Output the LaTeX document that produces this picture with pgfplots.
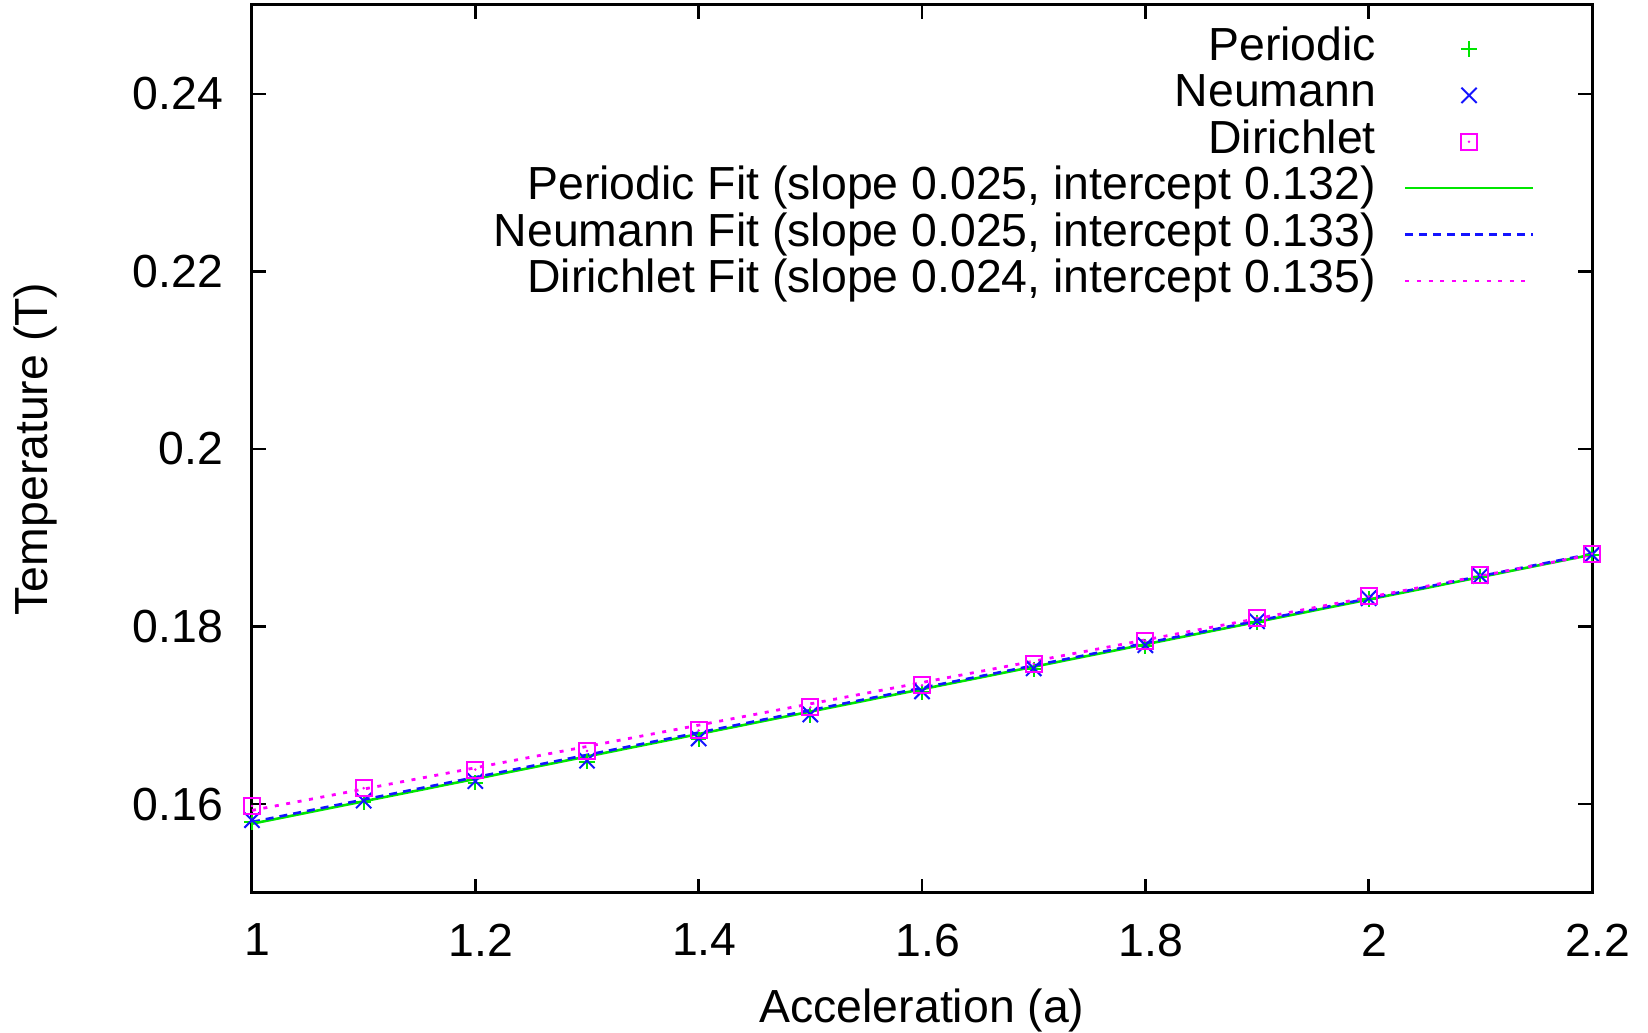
\documentclass[border=0pt]{standalone}
\usepackage{fontspec}
\setmainfont{Liberation Sans}
\usepackage{pgfplots}
\pgfplotsset{compat=1.18}
\usepackage{pgfplotstable}
\definecolor{gpgreen}{RGB}{0,230,0}
\definecolor{gpblue}{RGB}{20,20,255}
\definecolor{gpmag}{RGB}{255,0,255}
\newcommand{\myfont}{\fontsize{11.6}{13.9}\selectfont}
\pgfdeclareplotmark{sqdot}{%
  \pgfpathrectangle{\pgfpoint{-\pgfplotmarksize}{-\pgfplotmarksize}}{\pgfpoint{2\pgfplotmarksize}{2\pgfplotmarksize}}%
  \pgfusepathqstroke
  \pgfpathcircle{\pgfpointorigin}{0.35pt}\pgfusepathqfill}

\pgfplotstableread{
a     per     neu     dir
1.0   0.1580  0.1582  0.1598
1.1   0.1602  0.1604  0.1618
1.2   0.1624  0.1626  0.1639
1.3   0.1648  0.1649  0.1660
1.4   0.1673  0.1674  0.1683
1.5   0.1700  0.1701  0.1709
1.6   0.1726  0.1727  0.1734
1.7   0.1752  0.1753  0.1758
1.8   0.1778  0.1779  0.1784
1.9   0.1805  0.1806  0.1810
2.0   0.1831  0.1832  0.1834
2.1   0.1856  0.1857  0.1858
2.2   0.1881  0.1881  0.1882
}\datatable

\pgfplotstableread{
a     per     neu     dir
1.0   0.1578  0.1580  0.1593
2.2   0.1881  0.1882  0.1881
}\fittable

\begin{document}
\begin{tikzpicture}
\begin{axis}[
  scale only axis,
  width=335pt, height=222pt,
  xmin=1, xmax=2.2, ymin=0.15, ymax=0.25,
  xtick={1,1.2,1.4,1.6,1.8,2,2.2},
  ytick={0.16,0.18,0.2,0.22,0.24},
  xtick pos=both, ytick pos=both,
  tick align=inside,
  major tick length=3.6pt,
  scaled ticks=false,
  /pgf/number format/fixed,
  /pgf/number format/assume math mode=true,
  axis line style={line width=0.75pt},
  every tick/.style={black, line width=0.6pt},
  tick label style={font=\myfont, inner sep=0pt},
  xticklabel style={anchor=north, yshift=-7.5pt, xshift=1.4pt},
  yticklabel style={anchor=east, xshift=-7pt},
  xlabel={Acceleration (a)},
  ylabel={Temperature (T)},
  every axis x label/.style={at={(axis description cs:0.5,0)}, anchor=base, yshift=-32.5pt, font=\myfont, inner sep=0pt},
  every axis y label/.style={at={(axis description cs:-0.1612,0.5)}, anchor=center, rotate=90, font=\myfont, inner sep=0pt},
  legend style={font=\myfont, draw=none, fill=none, inner sep=0pt,
    at={(axis description cs:1,1)}, anchor=north east, xshift=-14.25pt, yshift=-5.0pt,
    nodes={inner sep=0pt, text height=8.7pt, text depth=2.9pt},
    column sep=7pt},
  legend cell align=right,
  legend plot pos=right,
  legend image code/.code={\draw[mark repeat=2,mark phase=2] plot coordinates {(0cm,0cm) (0.56cm,0cm) (1.12cm,0cm)};},
]
\addplot[only marks, gpgreen, mark=+, mark size=1.9pt, line width=0.5pt] table[x=a, y=per] {\datatable};
\addlegendentry{Periodic}
\addplot[only marks, gpblue, mark=x, mark size=2.7pt, line width=0.5pt] table[x=a, y=neu] {\datatable};
\addlegendentry{Neumann}
\addplot[only marks, gpmag, mark=sqdot, mark size=2pt, line width=0.5pt] table[x=a, y=dir] {\datatable};
\addlegendentry{Dirichlet}
\addplot[gpgreen, line width=0.65pt, no marks] table[x=a, y=per] {\fittable};
\addlegendentry{Periodic Fit (slope 0.025, intercept 0.132)}
\addplot[gpblue, line width=0.65pt, no marks, dash pattern=on 2pt off 1.5pt] table[x=a, y=neu] {\fittable};
\addlegendentry{Neumann Fit (slope 0.025, intercept 0.133)}
\addplot[gpmag, line width=0.7pt, no marks, dash pattern=on 1pt off 1.9pt] table[x=a, y=dir] {\fittable};
\addlegendentry{Dirichlet Fit (slope 0.024, intercept 0.135)}
\end{axis}
\path ([xshift=-63pt,yshift=-35pt]current axis.south west) rectangle ([xshift=14pt,yshift=1.25pt]current axis.north east);
\end{tikzpicture}
\end{document}
